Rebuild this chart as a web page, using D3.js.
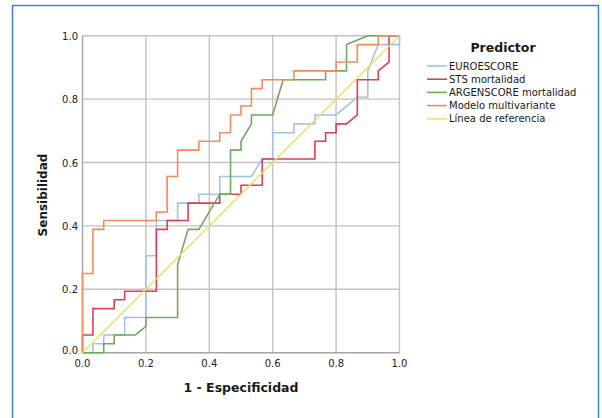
<!DOCTYPE html>
<html><head><meta charset="utf-8">
<script src="https://cdn.jsdelivr.net/npm/d3@7"></script>
<style>
html,body{margin:0;padding:0;background:#fff;}
svg{display:block;font-family:"DejaVu Sans",sans-serif;}
</style></head>
<body>
<svg id="chart" width="602" height="418"></svg>
<script>
// ROC points: false positive rate (1 - especificidad) and sensitivity
const euroX = [0,0.033,0.033,0.067,0.067,0.133,0.133,0.2,0.2,0.233,0.233,0.3,0.3,0.367,0.367,0.433,0.433,0.533,0.567,0.6,0.6,0.667,0.667,0.733,0.733,0.8,0.867,0.9,0.9,0.933,1,1];
const euroY = [0,0,0.028,0.028,0.056,0.056,0.111,0.111,0.306,0.306,0.417,0.417,0.472,0.472,0.5,0.5,0.556,0.556,0.611,0.611,0.694,0.694,0.722,0.722,0.75,0.75,0.806,0.806,0.889,0.972,0.972,1];

const stsX = [0,0,0.033,0.033,0.1,0.1,0.133,0.133,0.233,0.233,0.267,0.267,0.333,0.333,0.433,0.433,0.5,0.5,0.567,0.567,0.733,0.733,0.767,0.767,0.8,0.8,0.833,0.867,0.867,0.933,0.933,0.967,0.967,1];
const stsY = [0,0.056,0.056,0.139,0.139,0.167,0.167,0.194,0.194,0.389,0.389,0.417,0.417,0.472,0.472,0.5,0.5,0.528,0.528,0.611,0.611,0.667,0.667,0.694,0.694,0.722,0.722,0.75,0.861,0.861,0.889,0.917,1,1];

const argX = [0,0.067,0.067,0.1,0.1,0.167,0.2,0.2,0.3,0.3,0.333,0.367,0.433,0.467,0.467,0.5,0.5,0.533,0.533,0.6,0.633,0.767,0.767,0.833,0.833,0.9,1];
const argY = [0,0,0.028,0.028,0.056,0.056,0.083,0.111,0.111,0.278,0.389,0.389,0.5,0.5,0.639,0.639,0.667,0.722,0.75,0.75,0.861,0.861,0.889,0.889,0.972,1,1];

const multiX = [0,0,0.033,0.033,0.067,0.067,0.233,0.233,0.267,0.267,0.3,0.3,0.367,0.367,0.433,0.433,0.467,0.467,0.5,0.5,0.533,0.533,0.567,0.567,0.667,0.667,0.8,0.8,0.867,0.867,0.933,0.933,1];
const multiY = [0,0.25,0.25,0.389,0.389,0.417,0.417,0.444,0.444,0.556,0.556,0.639,0.639,0.667,0.667,0.694,0.694,0.75,0.75,0.778,0.778,0.833,0.833,0.861,0.861,0.889,0.889,0.917,0.917,0.972,0.972,1,1];

const refX = [0,1];
const refY = [0,1];

const seriesNames = ["EUROESCORE","STS mortalidad","ARGENSCORE mortalidad","Modelo multivariante","Línea de referencia"];
const seriesColors = ["#9fc4ea","#dc3f55","#6fab5c","#f48b5c","#ece06c"];
const ticks = [0,0.2,0.4,0.6,0.8,1.0];
const tickLabels = ["0.0","0.2","0.4","0.6","0.8","1.0"];

const series = [
  {x: euroX, y: euroY},
  {x: stsX, y: stsY},
  {x: argX, y: argY},
  {x: multiX, y: multiY},
  {x: refX, y: refY}
];

const svg = d3.select("#chart");
// outer frame
svg.append("rect").attr("x",12.5).attr("y",5.5).attr("width",586).attr("height",420)
  .attr("fill","#fff").attr("stroke","#3c82d2").attr("stroke-width",1.5);

const L = 82.5, R = 399.5, T = 35.7, B = 352.7;
const x = d3.scaleLinear().domain([0,1]).range([L,R]);
const y = d3.scaleLinear().domain([0,1]).range([B,T]);

// grid
const g = svg.append("g");
g.selectAll("line.vg").data(ticks.slice(1)).join("line")
  .attr("x1",d=>x(d)).attr("x2",d=>x(d)).attr("y1",y(0)).attr("y2",y(1))
  .attr("stroke","#c8c0c0").attr("stroke-width",1.4);
g.selectAll("line.hg").data(ticks.slice(1)).join("line")
  .attr("x1",x(0)).attr("x2",x(1)).attr("y1",d=>y(d)).attr("y2",d=>y(d))
  .attr("stroke","#c8c0c0").attr("stroke-width",1.4);
// axes lines
g.append("line").attr("x1",x(0)).attr("x2",x(0)).attr("y1",y(0)).attr("y2",y(1))
  .attr("stroke","#a9a3a3").attr("stroke-width",1.4);
g.append("line").attr("x1",x(0)).attr("x2",x(1)).attr("y1",y(0)).attr("y2",y(0))
  .attr("stroke","#a9a3a3").attr("stroke-width",1.4);

// tick labels
svg.append("g").selectAll("text").data(ticks).join("text")
  .attr("x",78).attr("y",(d,i)=> i===0 ? y(d)+1 : y(d)+4)
  .attr("text-anchor","end").attr("font-size",10).attr("fill","#222")
  .text((d,i)=>tickLabels[i]);
svg.append("g").selectAll("text").data(ticks).join("text")
  .attr("x",d=>x(d)).attr("y",367)
  .attr("text-anchor","middle").attr("font-size",10).attr("fill","#222")
  .text((d,i)=>tickLabels[i]);

// axis titles
svg.append("text").attr("transform","translate(47,195) rotate(-90)")
  .attr("text-anchor","middle").attr("font-size",12).attr("font-weight","bold").attr("fill","#1a1a1a")
  .text("Sensibilidad");
svg.append("text").attr("x",241).attr("y",392)
  .attr("text-anchor","middle").attr("font-size",12.5).attr("font-weight","bold").attr("fill","#1a1a1a")
  .text("1 - Especificidad");

// curves
const line = d3.line().x(d=>x(d[0])).y(d=>y(d[1]));
series.forEach((s,i)=>{
  const pts = s.x.map((v,j)=>[v,s.y[j]]);
  svg.append("path").datum(pts).attr("d",line)
    .attr("fill","none").attr("stroke",seriesColors[i]).attr("stroke-width",1.6)
    .attr("stroke-linejoin","miter");
});

// legend
svg.append("text").attr("x",503).attr("y",52).attr("text-anchor","middle")
  .attr("font-size",12.5).attr("font-weight","bold").attr("fill","#1a1a1a").text("Predictor");
const leg = svg.append("g");
seriesNames.forEach((n,i)=>{
  const yy = 66 + i*13.2;
  leg.append("line").attr("x1",427).attr("x2",447).attr("y1",yy).attr("y2",yy)
    .attr("stroke",seriesColors[i]).attr("stroke-width",1.6);
  leg.append("text").attr("x",449).attr("y",yy+3.6).attr("font-size",10).attr("fill","#1a1a1a").text(n);
});
</script>
</body></html>
